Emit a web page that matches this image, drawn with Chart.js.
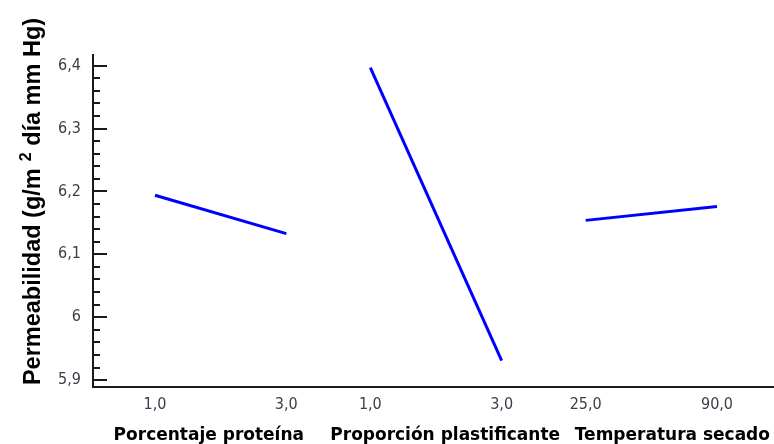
<!DOCTYPE html>
<html>
<head>
<meta charset="utf-8">
<script src="https://cdn.jsdelivr.net/npm/chart.js@4/dist/chart.umd.min.js"></script>
<style>
  html, body { margin: 0; padding: 0; background: #fff; }
  #wrap { width: 774px; height: 444px; }
</style>
</head>
<body>
<div id="wrap"><canvas id="c" width="774" height="444"></canvas></div>
<script>
// Main effects on film permeability (one line per factor, low -> high level)
const factorNames = ['Porcentaje proteína', 'Proporción plastificante', 'Temperatura secado'];
const levelLabels = [['1,0', '3,0'], ['1,0', '3,0'], ['25,0', '90,0']];
const proteinMeans = [6.194, 6.133];
const plasticizerMeans = [6.397, 5.931];
const dryingMeans = [6.154, 6.176];
const yTitleMain = 'Permeabilidad (g/m';
const yTitleSup = '2';
const yTitleRest = ' día mm Hg)';

// Layout: each factor panel is one level-unit wide, panels are SLOT apart
const SLOT = 1.64;
const NAME_SHIFT = [-0.09, 0.07, 0.16];
const seriesMeans = [proteinMeans, plasticizerMeans, dryingMeans];

const levelPositions = [];
const levelTexts = [];
seriesMeans.forEach((m, i) => {
  m.forEach((_, j) => {
    levelPositions.push(i * SLOT + j);
    levelTexts.push(levelLabels[i][j]);
  });
});
const namePositions = factorNames.map((_, i) => i * SLOT + 0.5 + NAME_SHIFT[i]);

const datasets = seriesMeans.map((m, i) => ({
  label: factorNames[i],
  data: m.map((v, j) => ({ x: i * SLOT + j, y: v })),
  borderColor: '#0000ff',
  borderWidth: 3,
  pointRadius: 0,
  tension: 0,
  fill: false
}));

const isMajor = v => Math.abs(v * 10 - Math.round(v * 10)) < 1e-6;
const fmt = v => String(Math.round(v * 10) / 10).replace('.', ',');
const tickFont = { family: '"Liberation Sans Narrow", "Arial Narrow", "DejaVu Sans Condensed", sans-serif', size: 16 };

// Short inward ticks on the y axis: long at 0,1 steps, short in between
const inwardTicks = {
  id: 'inwardTicks',
  afterDraw(chart) {
    const y = chart.scales.y;
    const ctx = chart.ctx;
    const x0 = chart.chartArea.left;
    ctx.save();
    ctx.strokeStyle = '#1a1a1a';
    ctx.lineWidth = 2;
    y.ticks.forEach(t => {
      const py = Math.round(y.getPixelForValue(t.value));
      const len = isMajor(t.value) ? 14 : 7;
      ctx.beginPath();
      ctx.moveTo(x0, py);
      ctx.lineTo(x0 + len, py);
      ctx.stroke();
    });
    ctx.restore();
  }
};

// Rotated y-axis title with a superscript
const yTitle = {
  id: 'yTitle',
  afterDraw(chart) {
    const ctx = chart.ctx;
    const mainFont = 'bold 23.5px "Liberation Sans", Arial, sans-serif';
    const supFont = 'bold 16px "Liberation Sans", Arial, sans-serif';
    ctx.save();
    ctx.font = mainFont;
    const w1 = ctx.measureText(yTitleMain).width;
    const w3 = ctx.measureText(yTitleRest).width;
    const gap = 7;
    ctx.font = supFont;
    const w2 = ctx.measureText(yTitleSup).width;
    const total = w1 + gap + w2 + w3;
    ctx.translate(40, 201.5);
    ctx.rotate(-Math.PI / 2);
    ctx.fillStyle = '#000';
    ctx.textBaseline = 'alphabetic';
    ctx.textAlign = 'left';
    let x = -total / 2;
    ctx.font = mainFont;
    ctx.fillText(yTitleMain, x, 0);
    x += w1 + gap;
    ctx.font = supFont;
    ctx.fillText(yTitleSup, x, -9);
    x += w2;
    ctx.font = mainFont;
    ctx.fillText(yTitleRest, x, 0);
    ctx.restore();
  }
};

new Chart(document.getElementById('c'), {
  type: 'line',
  data: { datasets },
  options: {
    responsive: false,
    animation: false,
    devicePixelRatio: 1,
    layout: { padding: { top: 55, right: 0, left: 0, bottom: 0 } },
    plugins: { legend: { display: false }, tooltip: { enabled: false } },
    scales: {
      x: {
        type: 'linear',
        position: 'bottom',
        min: -0.472,
        max: 4.714,
        grid: { drawOnChartArea: false, drawTicks: false },
        border: { display: true, color: '#1a1a1a', width: 2 },
        afterBuildTicks: s => { s.ticks = levelPositions.map(v => ({ value: v })); },
        afterFit: s => { s.height = 30; },
        ticks: {
          autoSkip: false,
          maxRotation: 0,
          padding: 8,
          color: '#3c3c4a',
          font: tickFont,
          callback: (v, i) => levelTexts[i]
        }
      },
      names: {
        type: 'linear',
        position: 'bottom',
        min: -0.472,
        max: 4.714,
        grid: { display: false },
        border: { display: false },
        afterBuildTicks: s => { s.ticks = namePositions.map(v => ({ value: v })); },
        afterFit: s => { s.height = 27; },
        ticks: {
          autoSkip: false,
          maxRotation: 0,
          padding: 0,
          color: '#000',
          font: { family: '"DejaVu Sans", Verdana, sans-serif', size: 17, weight: 'bold' },
          callback: (v, i) => factorNames[i]
        }
      },
      y: {
        type: 'linear',
        position: 'left',
        min: 5.889,
        max: 6.417,
        grid: { drawOnChartArea: false, drawTicks: false },
        border: { display: true, color: '#1a1a1a', width: 2 },
        afterFit: s => { s.width = 93; },
        ticks: {
          stepSize: 0.02,
          includeBounds: false,
          autoSkip: false,
          padding: 12,
          color: '#3c3c4a',
          font: tickFont,
          callback: v => (isMajor(v) ? fmt(v) : '')
        }
      }
    }
  },
  plugins: [inwardTicks, yTitle]
});
</script>
</body>
</html>
